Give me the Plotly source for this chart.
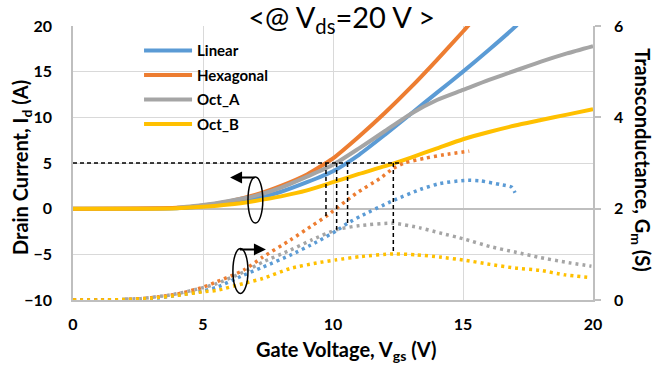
import plotly.graph_objects as go

# ---------------- data ----------------
series = ["Linear", "Hexagonal", "Oct_A", "Oct_B"]
colors = ["#5B9BD5", "#ED7D31", "#A5A5A5", "#FFC000"]

# Drain current Id (A) vs Vgs (V)  -- left axis
lin_id_v = [0, 4, 5, 6, 7, 8, 9, 10, 11, 12, 13, 14, 15, 16, 17, 17.1]
lin_id = [0, 0.05, 0.25, 0.55, 1.05, 1.85, 2.9, 4.1, 5.9, 8.1, 10.4, 12.7, 15.0, 17.4, 19.9, 20.2]

hex_id_v = [0, 4, 5, 6, 7, 8, 9, 9.73, 10, 11, 12, 13, 14, 15, 15.25]
hex_id = [0, 0.1, 0.35, 0.8, 1.5, 2.5, 3.75, 5.0, 5.5, 7.9, 10.5, 13.3, 16.3, 19.4, 20.2]

octa_id_v = [4, 5, 6, 7, 8, 9, 10, 11, 12, 13, 14, 15, 16, 17, 18, 19, 20]
octa_id = [0.1, 0.4, 0.85, 1.4, 2.3, 3.5, 4.8, 6.6, 8.5, 10.4, 11.9, 13.0, 14.1, 15.1, 16.1, 17.0, 17.8]

octb_id_v = [0, 3, 4, 5, 6, 7, 8, 9, 10, 11, 12, 13, 14, 15, 16, 17, 18, 19, 20]
octb_id = [0, 0, 0.05, 0.2, 0.45, 0.85, 1.35, 2.0, 2.9, 3.8, 4.65, 5.6, 6.6, 7.6, 8.4, 9.1, 9.7, 10.3, 10.9]

# Transconductance Gm (S) vs Vgs (V)  -- right axis
lin_gm_v = [0, 2, 3, 4, 5, 5.53, 6.55, 7.3, 8.35, 9.37, 10.14, 10.56, 11.04, 12.32, 13.35, 14.1, 15.08, 15.65, 16.42, 16.87, 17.0]
lin_gm = [0, 0.01, 0.03, 0.1, 0.2, 0.28, 0.54, 0.72, 0.98, 1.27, 1.52, 1.68, 1.83, 2.18, 2.42, 2.55, 2.62, 2.61, 2.53, 2.47, 2.35]

hex_gm_v = [0, 1, 2, 3, 4, 5, 5.53, 6.55, 7.3, 8.35, 9.2, 9.73, 10.88, 11.8, 12.32, 12.74, 13.5, 14.27, 15.24]
hex_gm = [0, 0, 0.01, 0.05, 0.13, 0.28, 0.4, 0.65, 0.94, 1.31, 1.63, 1.83, 2.33, 2.66, 2.88, 3.0, 3.1, 3.18, 3.26]

octa_gm_v = [2, 2.56, 3.85, 5, 5.53, 6.55, 7.3, 8.35, 9.2, 10.14, 11.04, 12.32, 13.35, 14.1, 15.08, 16.04, 17.0, 17.96, 18.92, 19.94]
octa_gm = [0.02, 0.03, 0.12, 0.27, 0.36, 0.61, 0.83, 1.09, 1.32, 1.54, 1.63, 1.68, 1.58, 1.47, 1.33, 1.17, 1.05, 0.93, 0.83, 0.74]

octb_gm_v = [0, 1, 2, 3, 4, 5, 5.53, 6.55, 7.3, 8.35, 9.37, 10.14, 11.04, 12.32, 13.2, 14.1, 15.08, 16.04, 17.0, 17.96, 18.92, 19.94]
octb_gm = [0, 0, 0.01, 0.04, 0.1, 0.18, 0.21, 0.36, 0.47, 0.69, 0.81, 0.88, 0.95, 1.01, 0.99, 0.94, 0.87, 0.78, 0.7, 0.65, 0.55, 0.49]

# Id = 5 A crossing points and the Gm read there
cross_id = 5
cross_vgs = [9.73, 10.14, 10.56, 12.32]
cross_gm = [1.83, 1.54, 1.68, 1.07]
hline_end_vgs = 12.58

x_ticks = [0, 5, 10, 15, 20]
y_ticks = [-10, -5, 0, 5, 10, 15, 20]
y2_ticks = [0, 2, 4, 6]

id_data = [(lin_id_v, lin_id), (hex_id_v, hex_id), (octa_id_v, octa_id), (octb_id_v, octb_id)]
gm_data = [(lin_gm_v, lin_gm), (hex_gm_v, hex_gm), (octa_gm_v, octa_gm), (octb_gm_v, octb_gm)]

FONT = "Lato"
GRID = "#D9D9D9"
AXC = "#BFBFBF"

fig = go.Figure()

# Gm (dotted) on right axis
for name, col, (vx, vy) in zip(series, colors, gm_data):
    fig.add_trace(go.Scatter(
        x=vx, y=vy, yaxis="y2", mode="lines", name=name + " Gm",
        line=dict(color=col, width=3.5, dash="3px,4px", shape="spline", smoothing=0.6),
        showlegend=False, legendgroup=name, hoverinfo="skip"))

# Id (solid) on left axis
for name, col, (vx, vy) in zip(series, colors, id_data):
    fig.add_trace(go.Scatter(
        x=vx, y=vy, mode="lines", name=name,
        line=dict(color=col, width=4, shape="spline", smoothing=0.6),
        legendgroup=name))

shapes = []
# dashed guide lines
shapes.append(dict(type="line", xref="x", yref="y", x0=0, x1=hline_end_vgs, y0=cross_id, y1=cross_id,
                   line=dict(color="black", width=1.5, dash="4px,3px")))
y_lo, y_hi = y_ticks[0], y_ticks[-1]
y2_lo, y2_hi = y2_ticks[0], y2_ticks[-1]
for vx, g in zip(cross_vgs, cross_gm):
    y_left = y_lo + (g - y2_lo) * (y_hi - y_lo) / (y2_hi - y2_lo)
    shapes.append(dict(type="line", xref="x", yref="y", x0=vx, x1=vx, y0=cross_id, y1=y_left,
                       line=dict(color="black", width=1.5, dash="4px,3px")))

# ellipses grouping the curves
ellipses = [(6.73, 7.30, -1.58, 3.46), (6.15, 6.73, -9.28, -4.35)]
for x0, x1, y0, y1 in ellipses:
    shapes.append(dict(type="circle", xref="x", yref="y", x0=x0, x1=x1, y0=y0, y1=y1,
                       line=dict(color="black", width=1.5)))

annotations = []
# arrows (head, tail)
arrows = [((6.04, 3.4), (7.04, 3.4)), ((7.42, -4.46), (6.36, -4.46))]
for (hx, hy), (tx, ty) in arrows:
    annotations.append(dict(x=hx, y=hy, ax=tx, ay=ty, xref="x", yref="y", axref="x", ayref="y",
                            text="", showarrow=True, arrowhead=2, arrowsize=1.2, arrowwidth=2,
                            arrowcolor="black"))

# axis titles
annotations.append(dict(text="<b>Drain Current, I<sub>d</sub> (A)</b>", xref="paper", yref="paper",
                        x=-0.098, y=0.482, textangle=-90, showarrow=False,
                        xanchor="center", yanchor="middle",
                        font=dict(family=FONT, size=20, color="black")))
annotations.append(dict(text="<b>Transconductance, G<sub>m</sub> (S)</b>", xref="paper", yref="paper",
                        x=1.092, y=0.511, textangle=90, showarrow=False,
                        xanchor="center", yanchor="middle",
                        font=dict(family=FONT, size=20, color="black")))
annotations.append(dict(text="<b>Gate Voltage, V<sub>gs</sub> (V)</b>", xref="paper", yref="paper",
                        x=0.525, y=-0.186, showarrow=False, xanchor="center", yanchor="middle",
                        font=dict(family=FONT, size=20, color="black")))

fig.update_layout(
    width=666, height=368,
    margin=dict(l=73, r=73, t=26, b=68),
    paper_bgcolor="white", plot_bgcolor="white",
    font=dict(family=FONT, color="black"),
    title=dict(text="&lt;@ V<sub>ds</sub>=20 V &gt;", xref="container", yref="container",
               x=0.513, y=0.952, xanchor="center", yanchor="middle",
               font=dict(family=FONT, size=29, color="black")),
    xaxis=dict(range=[x_ticks[0], x_ticks[-1]], tickvals=x_ticks, showgrid=True, gridcolor=GRID,
               gridwidth=1, zeroline=False, showline=True, linecolor=AXC, linewidth=1.5,
               ticks="", ticklabelstandoff=9,
               tickfont=dict(family=FONT, size=16, color="black", weight="bold")),
    yaxis=dict(range=[y_lo, y_hi], tickvals=y_ticks, showgrid=True, gridcolor=GRID, gridwidth=1,
               zeroline=True, zerolinecolor=AXC, zerolinewidth=2,
               showline=True, linecolor=AXC, linewidth=1.5, ticks="", ticklabelstandoff=16,
               tickfont=dict(family=FONT, size=16, color="black", weight="bold")),
    yaxis2=dict(range=[y2_lo, y2_hi], tickvals=y2_ticks, overlaying="y", side="right",
                showgrid=False, zeroline=False, showline=True, linecolor=AXC, linewidth=1.5,
                ticks="outside", ticklen=6, tickcolor=AXC, tickwidth=1.5, ticklabelstandoff=10,
                tickfont=dict(family=FONT, size=16, color="black", weight="bold")),
    legend=dict(x=0.127, y=0.97, xanchor="left", yanchor="top", bgcolor="rgba(0,0,0,0)",
                tracegroupgap=2, itemwidth=48,
                font=dict(family=FONT, size=15, color="black", weight="bold")),
    shapes=shapes, annotations=annotations,
    showlegend=True,
)

fig.write_html("out.html")
